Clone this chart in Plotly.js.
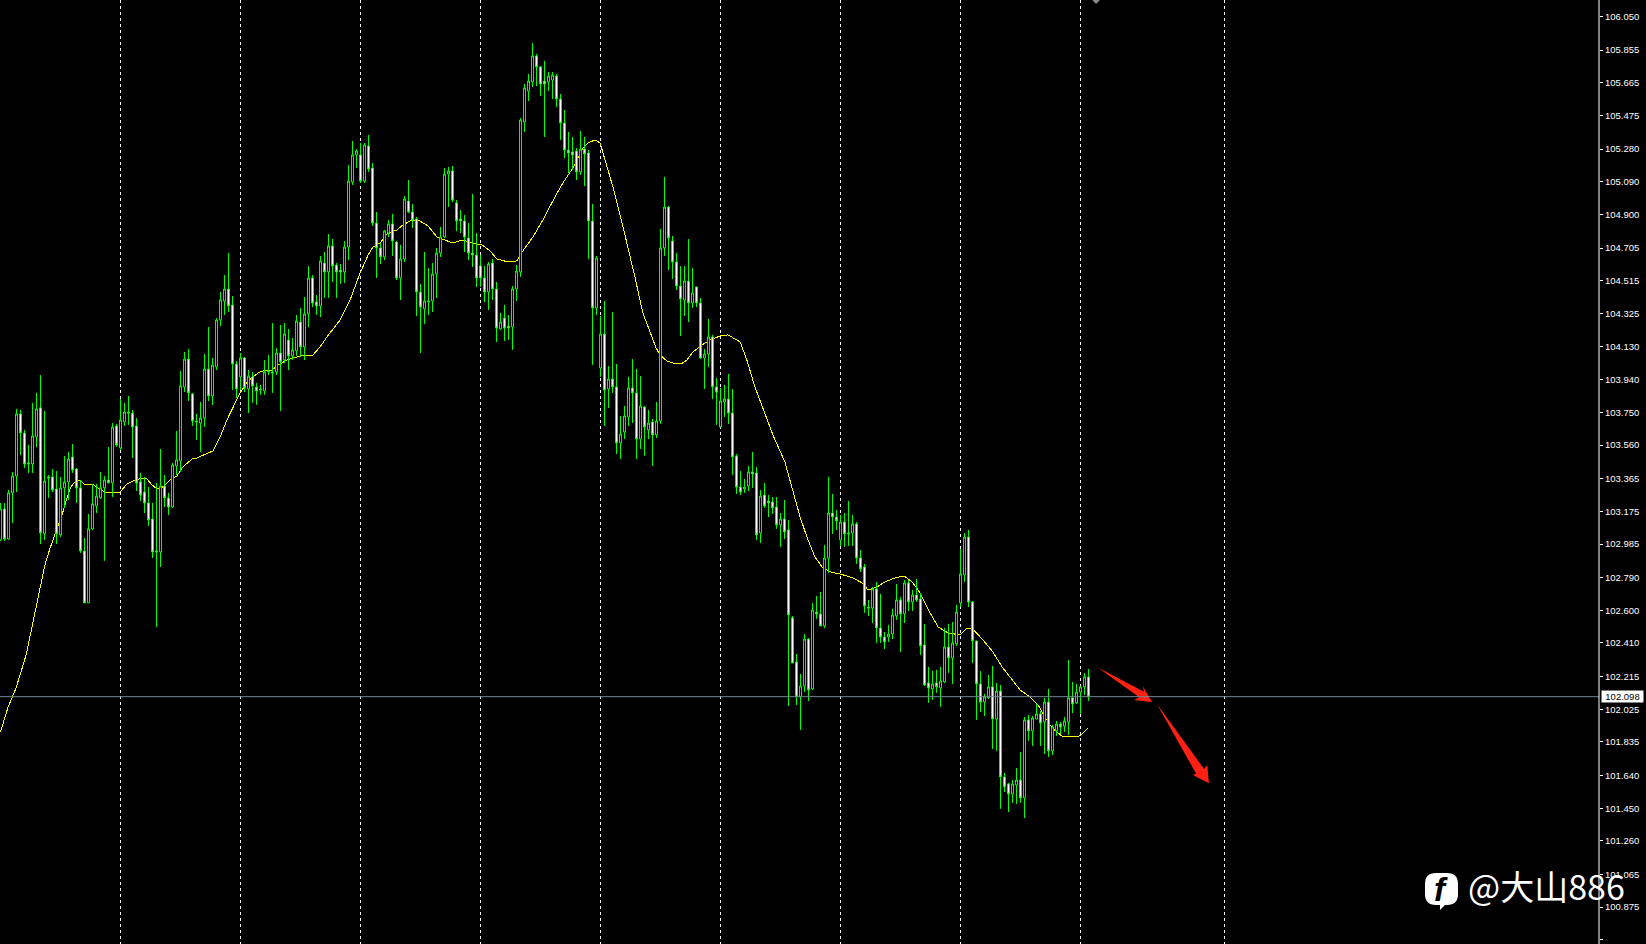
<!DOCTYPE html>
<html>
<head>
<meta charset="utf-8">
<script src="https://cdn.plot.ly/plotly-3.0.1.min.js"></script>
<style>html,body{margin:0;padding:0;background:#000;overflow:hidden}#chart{width:1646px;height:944px}
.scatterlayer .js-line{shape-rendering:crispEdges}
.boxlayer path{shape-rendering:crispEdges}</style>
</head>
<body>
<div id="chart"></div>
<script>
const highs = [
103.223,103.223,103.299,103.404,103.770,103.764,103.648,103.561,103.805,103.863,
103.967,103.758,103.386,103.421,103.409,103.375,103.497,103.520,103.566,103.427,
103.357,103.020,103.160,103.334,103.334,103.404,103.380,103.549,103.688,103.683,
103.828,103.805,103.845,103.764,103.717,103.398,103.375,103.316,103.224,103.340,
103.537,103.386,103.282,103.456,103.642,103.991,104.101,104.118,103.863,103.741,
103.810,104.089,104.246,104.066,104.298,104.450,104.548,104.676,104.426,104.049,
104.095,104.072,103.996,103.985,103.921,103.909,104.054,104.083,104.269,104.124,
104.258,104.269,104.234,104.182,104.316,104.356,104.420,104.600,104.548,104.432,
104.659,104.682,104.786,104.757,104.618,104.612,104.746,105.187,105.327,105.280,
105.315,105.315,105.362,105.199,104.914,104.734,104.810,104.868,104.903,104.746,
104.723,105.007,105.100,104.961,104.885,104.496,104.682,104.589,104.618,104.705,
104.827,105.170,105.176,105.182,104.984,104.926,104.897,104.850,105.019,104.792,
104.664,104.601,104.624,104.641,104.508,104.328,104.374,104.316,104.484,104.606,
105.460,105.658,105.716,105.896,105.832,105.763,105.792,105.728,105.728,105.716,
105.600,105.507,105.379,105.350,105.286,105.385,105.350,105.274,104.961,104.659,
104.310,104.397,104.020,104.333,104.031,103.729,103.787,103.956,104.060,104.002,
103.961,103.787,103.764,103.712,103.810,104.816,105.118,104.949,104.775,104.676,
104.600,104.600,104.757,104.589,104.479,104.415,104.118,104.293,104.200,103.950,
103.892,103.909,103.973,103.886,103.508,103.409,103.363,103.438,103.520,103.433,
103.299,103.340,103.270,103.258,103.258,103.165,103.241,103.125,102.567,102.346,
102.230,102.462,102.439,102.642,102.683,102.706,102.979,103.375,103.276,103.183,
103.154,103.165,103.235,103.154,103.113,102.950,102.869,102.660,102.735,102.764,
102.695,102.474,102.515,102.608,102.753,102.677,102.776,102.776,102.718,102.782,
102.701,102.521,102.271,102.248,102.254,102.271,102.497,102.521,102.532,102.631,
102.956,103.049,103.067,102.654,102.422,102.247,102.114,102.224,102.277,102.178,
102.166,101.655,101.597,101.614,101.684,101.777,101.980,101.992,101.986,102.056,
102.015,102.091,102.143,101.934,101.957,101.951,101.980,102.311,102.184,102.172,
102.155,102.236,102.259];
const bodyTops = [
103.189,103.189,103.282,103.380,103.741,103.741,103.630,103.456,103.613,103.770,
103.776,103.351,103.375,103.375,103.305,103.311,103.346,103.479,103.491,103.421,
103.311,102.945,103.073,103.218,103.264,103.311,103.357,103.357,103.665,103.671,
103.706,103.752,103.752,103.746,103.671,103.346,103.287,103.224,103.131,102.945,
103.322,103.322,103.253,103.444,103.474,103.904,104.060,104.060,103.857,103.700,
103.717,104.002,104.002,104.025,104.287,104.403,104.467,104.467,104.374,104.031,
104.066,104.066,103.961,103.956,103.897,103.886,103.985,103.990,103.985,104.095,
104.095,104.206,104.171,104.113,104.281,104.275,104.322,104.531,104.531,104.391,
104.630,104.618,104.717,104.717,104.606,104.577,104.711,105.094,105.246,105.269,
105.246,105.304,105.298,105.170,104.850,104.705,104.804,104.845,104.845,104.740,
104.641,104.990,104.978,104.914,104.874,104.449,104.397,104.397,104.554,104.676,
104.769,105.135,105.153,105.153,104.967,104.874,104.862,104.763,104.676,104.664,
104.601,104.531,104.612,104.618,104.467,104.275,104.298,104.252,104.467,104.571,
105.449,105.635,105.675,105.821,105.821,105.757,105.675,105.704,105.710,105.704,
105.571,105.431,105.274,105.263,105.269,105.280,105.280,105.257,104.862,104.647,
104.205,104.205,103.944,103.944,103.898,103.624,103.729,103.892,103.892,103.863,
103.787,103.781,103.688,103.694,103.700,104.705,104.943,104.943,104.746,104.624,
104.484,104.513,104.513,104.444,104.479,104.386,104.089,104.188,104.188,103.898,
103.816,103.828,103.828,103.746,103.497,103.316,103.316,103.404,103.404,103.398,
103.264,103.270,103.235,103.229,103.200,103.131,103.131,103.067,102.556,102.300,
102.160,102.433,102.433,102.602,102.590,102.579,102.904,103.165,103.165,103.142,
103.113,103.113,103.049,103.102,103.102,102.904,102.852,102.619,102.724,102.724,
102.497,102.445,102.462,102.573,102.660,102.660,102.759,102.759,102.689,102.689,
102.666,102.399,102.178,102.172,102.178,102.189,102.387,102.387,102.410,102.590,
102.811,103.026,103.026,102.648,102.422,102.172,102.097,102.155,102.155,102.131,
102.131,101.632,101.591,101.591,101.614,101.614,101.963,101.963,101.974,101.998,
101.998,102.067,102.067,101.922,101.939,101.939,101.957,102.091,102.091,102.125,
102.155,102.213,102.213];
const bodyBottoms = [
103.009,103.014,103.014,103.282,103.380,103.630,103.450,103.450,103.450,103.607,
103.049,103.044,103.369,103.299,103.044,103.038,103.311,103.346,103.415,103.311,
102.945,102.643,102.643,103.073,103.206,103.253,103.311,103.340,103.340,103.561,
103.543,103.694,103.746,103.665,103.340,103.270,103.224,103.125,102.939,102.939,
102.939,103.253,103.200,103.200,103.439,103.468,103.897,103.863,103.700,103.694,
103.688,103.717,103.845,103.845,104.014,104.287,104.397,104.368,104.031,103.886,
103.956,103.892,103.886,103.903,103.874,103.880,103.874,103.985,103.979,103.985,
104.043,104.054,104.078,104.078,104.107,104.130,104.130,104.322,104.386,104.368,
104.368,104.566,104.566,104.601,104.566,104.566,104.566,104.711,105.089,105.246,
105.094,105.094,105.164,104.850,104.705,104.653,104.653,104.792,104.746,104.531,
104.531,104.641,104.914,104.868,104.449,104.362,104.351,104.391,104.397,104.554,
104.676,104.769,105.135,104.984,104.862,104.862,104.769,104.676,104.664,104.531,
104.531,104.449,104.449,104.467,104.240,104.235,104.240,104.240,104.246,104.467,
104.566,105.437,105.617,105.670,105.757,105.658,105.658,105.670,105.681,105.571,
105.431,105.274,105.257,105.245,105.147,105.147,105.251,104.862,104.357,104.357,
104.008,103.880,103.886,103.898,103.572,103.572,103.636,103.723,103.863,103.595,
103.595,103.665,103.648,103.619,103.619,103.700,104.705,104.763,104.624,104.484,
104.409,104.403,104.386,104.386,104.386,104.066,104.066,104.089,103.898,103.868,
103.665,103.810,103.746,103.491,103.316,103.287,103.305,103.322,103.392,103.038,
103.049,103.206,103.224,103.195,103.096,103.096,103.055,102.573,102.294,102.097,
102.097,102.160,102.137,102.143,102.579,102.509,102.509,102.904,103.142,103.119,
103.009,103.044,103.044,103.049,102.904,102.840,102.625,102.613,102.613,102.497,
102.445,102.416,102.445,102.462,102.567,102.579,102.579,102.648,102.648,102.660,
102.393,102.166,102.149,102.143,102.155,102.149,102.184,102.323,102.323,102.405,
102.643,102.805,102.648,102.422,102.172,102.067,102.067,102.091,101.968,101.968,
101.632,101.574,101.533,101.533,101.585,101.510,101.510,101.899,101.899,101.968,
101.945,101.951,101.783,101.783,101.899,101.922,101.928,101.951,102.056,102.062,
102.125,102.155,102.097];
const lows = [
103.003,103.003,103.009,103.107,103.287,103.503,103.427,103.398,103.398,103.549,
102.985,103.009,103.253,103.287,102.985,103.026,103.195,103.241,103.398,103.224,
102.933,102.643,102.643,103.067,103.165,103.247,102.887,103.340,103.258,103.549,
103.532,103.671,103.677,103.485,103.293,103.235,103.165,103.090,102.904,102.503,
102.852,103.200,103.154,103.195,103.386,103.404,103.868,103.816,103.671,103.590,
103.520,103.665,103.816,103.793,103.996,104.252,104.316,104.333,103.880,103.834,
103.880,103.868,103.746,103.805,103.793,103.851,103.851,103.967,103.863,103.967,
103.758,104.037,103.996,104.054,104.078,104.072,104.054,104.246,104.362,104.316,
104.304,104.415,104.415,104.508,104.415,104.496,104.502,104.635,105.071,105.170,
105.083,105.083,105.147,104.833,104.531,104.612,104.635,104.769,104.659,104.519,
104.403,104.624,104.908,104.821,104.310,104.095,104.264,104.316,104.333,104.415,
104.653,104.763,104.943,104.972,104.804,104.792,104.682,104.635,104.595,104.479,
104.479,104.391,104.345,104.403,104.159,104.229,104.165,104.171,104.113,104.397,
104.537,105.379,105.559,105.641,105.646,105.588,105.350,105.617,105.571,105.524,
105.333,105.228,105.141,105.158,105.100,105.129,105.065,104.641,104.025,104.316,
103.956,103.671,103.775,103.863,103.508,103.479,103.595,103.671,103.688,103.479,
103.537,103.497,103.595,103.439,103.601,103.683,104.659,104.577,104.525,104.461,
104.194,104.310,104.275,104.357,104.362,104.060,103.886,104.014,103.828,103.677,
103.665,103.723,103.683,103.386,103.276,103.270,103.282,103.293,103.311,103.009,
102.991,103.195,103.142,103.160,103.073,102.968,103.014,102.044,102.294,102.050,
101.905,102.125,102.073,102.137,102.550,102.509,102.497,102.817,103.044,103.067,
102.974,102.968,102.974,102.974,102.869,102.823,102.585,102.567,102.526,102.410,
102.410,102.375,102.416,102.433,102.544,102.358,102.526,102.596,102.596,102.648,
102.341,102.160,102.062,102.079,102.120,102.039,102.178,102.236,102.172,102.393,
102.619,102.765,102.619,102.294,101.963,102.009,101.986,102.085,101.794,101.783,
101.446,101.544,101.428,101.481,101.475,101.481,101.393,101.841,101.812,101.968,
101.812,101.765,101.748,101.759,101.870,101.881,101.893,101.876,102.003,102.056,
101.998,102.108,102.073];
const directions =
"UDUUUDDDUU"+"DUDDDUUUDD"+"DDUUUUUDUD"+"UUDDDDDDDD"+"UDDUUUUDDD"+"UUDUUUUDDD"+"UDUDDDUUDU"+
"DUDUUDUUDD"+"UDUDDDUUUU"+"DUDDDDUUDD"+"UUDDDDUUUU"+"UUUDDDDDDD"+"DDUDDUDDUU"+"UUUUDDDUUD"+
"DDDDDUDDDU"+"UDUDDUUUDD"+"UDUDUUUDDD"+"DUDUDDUUDD"+"UUDDDDUUDD"+"UDDDDUDDDD"+"UUDUDDUUDD"+
"UDDUDDDDUD"+"DDUUUDUDUD"+"DDDUDUUDUU"+"UUDDDDUUDU"+"DDDUUDUDUU"+"DUDUUDUUDU"+"UUD";

const bars = highs.map((_, i) => i);
const opens = bars.map(i => directions[i] === "U" ? bodyBottoms[i] : bodyTops[i]);
const closes = bars.map(i => directions[i] === "U" ? bodyTops[i] : bodyBottoms[i]);

const maBars = [0,1.9,3.9,6.4,8.6,9.9,11.1,12.4,13.4,14.4,15.6,16.6,17.6,18.6,19.9,21.1,22.9,24.4,26.1,28.1,29.9,31.6,33.1,35.4,36.6,37.9,39.1,40.6,42.4,44.1,45.6,47.9,49.1,53.1,54.9,56.6,59.9,61.9,64.4,65.4,67.9,69.4,71.6,74.9,77.9,79.9,81.6,84.9,87.4,89.9,91.9,93.1,94.9,96.6,99.1,100.6,102.4,104.4,106.9,109.1,111.6,113.1,115.6,117.9,120.4,122.4,124.1,126.9,129.1,130.4,133.1,135.6,138.6,140.6,143.1,145.6,146.9,148.6,149.9,151.6,153.1,155.4,158.1,158.6,160.6,163.9,164.9,166.6,168.1,170.1,171.6,173.1,175.4,177.4,179.9,181.9,184.9,186.6,188.6,191.1,193.1,196.1,197.9,199.9,201.6,203.6,205.4,207.4,209.9,213.1,215.4,216.9,219.1,221.1,223.6,225.9,227.9,229.9,232.4,234.4,236.9,239.9,241.6,243.1,245.6,248.1,250.4,252.9,254.9,257.4,259.4,261.1,262.9,265.6,269.9,271.9];
const maPrices = [101.893,102.038,102.149,102.340,102.584,102.735,102.863,102.962,103.026,103.096,103.171,103.253,103.317,103.346,103.357,103.328,103.334,103.311,103.287,103.287,103.287,103.334,103.351,103.369,103.363,103.328,103.305,103.317,103.357,103.380,103.433,103.479,103.485,103.526,103.607,103.706,103.863,103.932,103.979,103.990,103.996,104.025,104.054,104.078,104.078,104.130,104.188,104.287,104.403,104.560,104.664,104.711,104.734,104.786,104.810,104.839,104.862,104.868,104.833,104.769,104.746,104.734,104.752,104.734,104.723,104.688,104.641,104.624,104.630,104.682,104.769,104.868,105.001,105.083,105.170,105.286,105.315,105.333,105.315,105.187,105.060,104.850,104.589,104.537,104.327,104.124,104.083,104.049,104.037,104.031,104.054,104.101,104.142,104.171,104.194,104.200,104.159,104.054,103.898,103.746,103.619,103.462,103.317,103.142,103.026,102.910,102.852,102.823,102.811,102.788,102.759,102.718,102.735,102.765,102.788,102.799,102.765,102.701,102.584,102.503,102.468,102.457,102.497,102.491,102.428,102.358,102.271,102.195,102.137,102.096,102.050,101.980,101.916,101.864,101.870,101.916];

const separatorBars = [0,30,60,90,120,150,180,210,240,270,306];
const priceTicks = [106.050,105.855,105.665,105.475,105.280,105.090,104.900,104.705,104.515,104.325,104.130,103.940,103.750,103.560,103.365,103.175,102.985,102.790,102.600,102.410,102.215,102.025,101.835,101.640,101.450,101.260,101.065,100.875,100.685];
const currentPrice = 102.098;

const arrow1Bars = [274.3,285.9,285.55,287.9,283.4,284.7,274.3];
const arrow1Prices = [102.267,102.127,102.160,102.066,102.079,102.095,102.267];
const arrow2Bars = [289.1,300.9,301.7,302.1,298.1,298.9,289.1];
const arrow2Prices = [102.056,101.678,101.701,101.595,101.643,101.651,102.056];
const watermark = "@大山886";

const W = 1646, H = 944, AXIS_X = 1599;
const px = (x, y) => (x / W).toFixed(5) + "," + (1 - y / H).toFixed(5);
const iconPath = "M" + px(1436,873) + " L" + px(1447,873) + " Q" + px(1458,873) + " " + px(1458,884) +
  " L" + px(1458,894) + " Q" + px(1458,905) + " " + px(1447,905) + " L" + px(1445,905) + " L" + px(1440,910) +
  " L" + px(1440,905) + " L" + px(1436,905) + " Q" + px(1425,905) + " " + px(1425,894) +
  " L" + px(1425,884) + " Q" + px(1425,873) + " " + px(1436,873) + " Z";

const arrowTrace = (x, y) => ({
  type: "scatter", mode: "lines", x, y, fill: "toself",
  fillcolor: "rgb(255,32,20)", line: {width: 0, color: "rgb(255,32,20)"},
  hoverinfo: "skip", showlegend: false, zorder: 2
});

const traces = [
  {type: "scatter", mode: "lines", x: maBars, y: maPrices,
   line: {color: "#ffff00", width: 1}, hoverinfo: "skip", showlegend: false, zorder: 0},
  {type: "candlestick", x: bars, open: opens, high: highs, low: lows, close: closes,
   increasing: {line: {color: "#00ff00", width: 1}, fillcolor: "#000000"},
   decreasing: {line: {color: "#00ff00", width: 1}, fillcolor: "#ffffff"},
   whiskerwidth: 0, hoverinfo: "skip", showlegend: false, zorder: 1},
  arrowTrace(arrow1Bars, arrow1Prices),
  arrowTrace(arrow2Bars, arrow2Prices),
  {type: "scatter", mode: "markers", x: [273.9], y: [106.146],
   marker: {symbol: "diamond", size: 6, color: "#8a8a8a"}, hoverinfo: "skip", showlegend: false, cliponaxis: false, zorder: 2}
];

const layout = {
  width: W, height: H,
  margin: {l: 0, r: 0, t: 0, b: 0, pad: 0},
  paper_bgcolor: "#000", plot_bgcolor: "#000",
  showlegend: false, hovermode: false, boxgap: 0.5, boxgroupgap: 0,
  font: {family: '"Liberation Sans", sans-serif', color: "#fff", size: 10},
  xaxis: {
    domain: [0, AXIS_X / W], range: [-0.125, 399.625], type: "linear", autorange: false,
    tickmode: "array", tickvals: separatorBars, showticklabels: false, ticks: "",
    showgrid: true, gridcolor: "#ffffff", griddash: "3px,3px", gridwidth: 1,
    zeroline: false, showline: false, rangeslider: {visible: false}, fixedrange: true
  },
  yaxis: {
    side: "right", domain: [0, 1], range: [100.661, 106.146], autorange: false,
    tickmode: "array", tickvals: priceTicks, ticktext: priceTicks.map(v => v.toFixed(3)),
    tickfont: {family: '"Liberation Sans", sans-serif', size: 9.5, color: "#fff"},
    ticks: "outside", ticklen: 3, tickcolor: "#fff", tickwidth: 1, ticklabelstandoff: 0,
    showline: true, linecolor: "#fff", linewidth: 1,
    showgrid: false, zeroline: false, fixedrange: true, automargin: false
  },
  shapes: [
    {type: "line", xref: "x domain", yref: "y", x0: 0, x1: 1, y0: currentPrice, y1: currentPrice,
     line: {color: "#778899", width: 1}},
    {type: "line", xref: "x domain", yref: "y domain", x0: 1, x1: 1, y0: 0, y1: 1,
     line: {color: "#ffffff", width: 1}},
    {type: "path", xref: "paper", yref: "paper", path: iconPath, fillcolor: "#fff", line: {width: 0}}
  ],
  annotations: [
    {xref: "paper", yref: "y", x: 1622 / W, y: currentPrice, xanchor: "center", yanchor: "middle",
     text: currentPrice.toFixed(3), showarrow: false,
     bgcolor: "#fff", width: 41, height: 11, borderpad: 0, font: {color: "#000", size: 9.5, family: '"Liberation Sans", sans-serif'}},
    {xref: "paper", yref: "paper", x: 1466 / W, y: 1 - 885 / H, xanchor: "left", yanchor: "middle", text: watermark,
     showarrow: false, font: {family: '"Noto Sans CJK SC", sans-serif', size: 34, color: "#fff"}},
    {xref: "paper", yref: "paper", x: 1441 / W, y: 1 - 889 / H, xanchor: "center", yanchor: "middle", text: "<b><i>f</i></b>",
     showarrow: false, font: {family: '"Liberation Sans", sans-serif', size: 33, color: "#000"}}
  ]
};

Plotly.newPlot("chart", traces, layout, {displayModeBar: false, staticPlot: true});
</script>
</body>
</html>
